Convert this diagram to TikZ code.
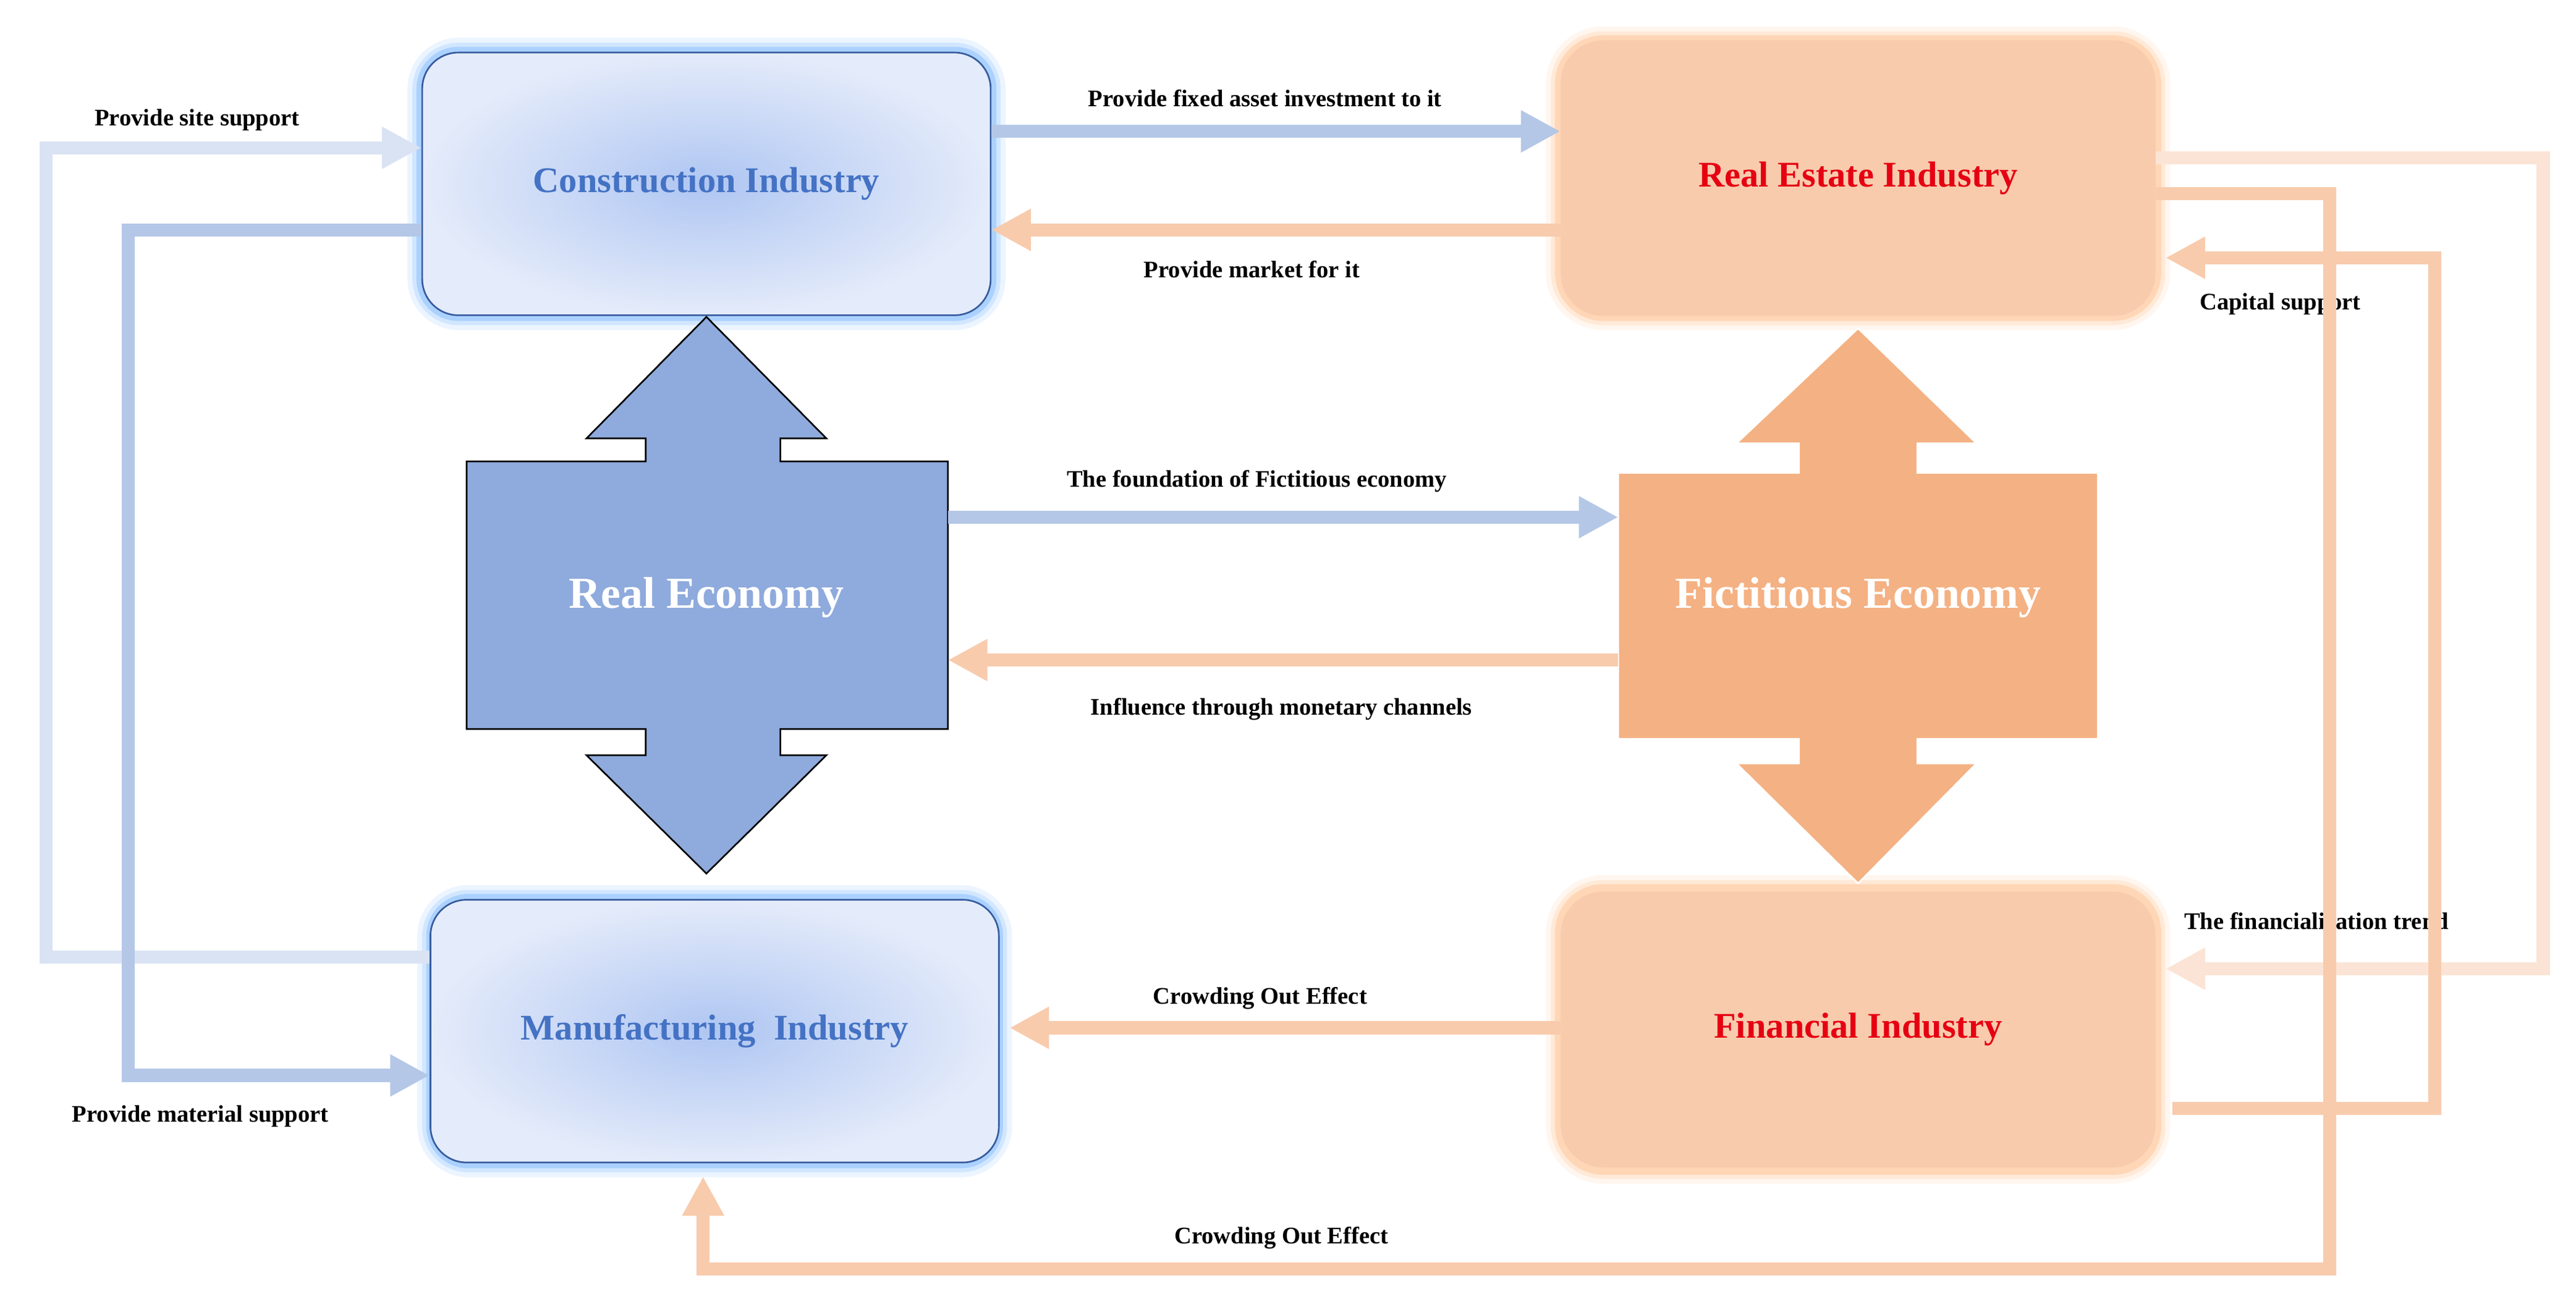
\documentclass[tikz,border=0pt]{standalone}
\usepackage{fontspec}
\setmainfont{Liberation Serif}
\usetikzlibrary{arrows.meta}
\definecolor{bl}{RGB}{180,199,231}
\definecolor{vbl}{RGB}{218,227,243}
\definecolor{orl}{RGB}{248,203,173}
\definecolor{vorl}{RGB}{251,228,213}
\definecolor{txtblue}{RGB}{68,114,196}
\definecolor{txtred}{RGB}{230,0,18}
\definecolor{reblue}{RGB}{143,170,220}
\definecolor{feor}{RGB}{244,177,131}
\definecolor{boxin}{RGB}{175,198,242}
\definecolor{boxout}{RGB}{228,235,250}
\definecolor{glowb}{RGB}{100,170,255}
\definecolor{glowo}{RGB}{255,180,120}
\begin{document}
\begin{tikzpicture}[x=1pt,y=-1pt,
  bluebox/.style={rounded corners=22pt,minimum width=346pt,minimum height=160pt,draw=txtblue!80!black,line width=1pt,inner color=boxin,outer color=boxout,text=txtblue,font=\bfseries\fontsize{22}{24}\selectfont},
  orbox/.style={rounded corners=26pt,minimum width=362pt,minimum height=168pt,fill=orl,text=txtred,font=\bfseries\fontsize{22}{24}\selectfont},
  lab/.style={font=\bfseries\fontsize{14.5}{16}\selectfont},
  con/.style={line width=8pt,-{Triangle[width=24pt,length=24pt]}},
  econ/.style={text=white,font=\bfseries\fontsize{27}{30}\selectfont}]
\useasboundingbox (0,0) rectangle (1568,796);
% glows
\foreach \w/\o in {18/0.12,12/0.2,7/0.35}{
  \draw[glowb,line width=\w pt,opacity=\o,rounded corners=22pt] (257,32) rectangle (603,192);
  \draw[glowb,line width=\w pt,opacity=\o,rounded corners=22pt] (263,548) rectangle (607,708);
  \draw[glowo,line width=\w pt,opacity=\o,rounded corners=26pt] (950,25) rectangle (1312,192);
  \draw[glowo,line width=\w pt,opacity=\o,rounded corners=26pt] (950,542) rectangle (1312,712);
}
\node[bluebox] (ci) at (430,112) {Construction Industry};
\node[bluebox] (mi) at (435,628) {Manufacturing\ \ Industry};
\node[orbox] (rei) at (1131,108.5) {Real Estate Industry};
\node[orbox] (fi) at (1131,627) {Financial Industry};
% economy shapes
\draw[fill=reblue,draw=black,line width=1pt] (430,193) -- (503,267) -- (475,267) -- (475,281) -- (577,281) -- (577,444) -- (475,444) -- (475,460) -- (503,460) -- (430,532) -- (357,460) -- (393,460) -- (393,444) -- (284,444) -- (284,281) -- (393,281) -- (393,267) -- (357,267) -- cycle;
\node[econ] (re) at (430,364) {Real Economy};
\draw[fill=feor,draw=white,line width=1pt] (1131,200) -- (1203,270) -- (1167,270) -- (1167,288) -- (1277,288) -- (1277,450) -- (1167,450) -- (1167,465) -- (1203,465) -- (1131,538) -- (1057,465) -- (1095,465) -- (1095,450) -- (985,450) -- (985,288) -- (1095,288) -- (1095,270) -- (1057,270) -- cycle;
\node[econ] (fe) at (1131,364) {Fictitious Economy};
\coordinate (reE) at (577,0); \coordinate (feW) at (985,0);
% horizontal connectors
\draw[con,bl] (ci.east|-0,80) -- (rei.west|-0,80);
\node[lab] at (770,60) {Provide fixed asset investment to it};
\draw[con,orl] (rei.west|-0,140) -- (ci.east|-0,140);
\node[lab] at (762,164) {Provide market for it};
\draw[con,bl] (reE|-0,315) -- (feW|-0,315);
\node[lab] at (765,293) {The foundation of Fictitious economy};
\draw[con,orl] (feW|-0,402) -- (reE|-0,402);
\node[lab] at (780,432) {Influence through monetary channels};
\draw[con,orl] (fi.west|-0,626) -- ([xshift=6pt]mi.east|-0,626);
\node[lab] at (767,608) {Crowding Out Effect};
% left loops
\draw[con,vbl] (mi.west|-0,583) -- (28,583) -- (28,90) -- (ci.west|-0,90);
\node[lab] at (120,73) {Provide site support};
\draw[con,bl] (ci.west|-0,140) -- (78,140) -- (78,655) -- (mi.west|-0,655);
\node[lab] at (122,680) {Provide material support};
% right loops
\draw[con,vorl] (rei.east|-0,96) -- (1548,96) -- (1548,590) -- ([xshift=6pt]fi.east|-0,590);
\node[lab] at (1410,561) {The financialization trend};
\draw[con,orl] ([xshift=10pt]fi.east|-0,675) -- (1482,675) -- (1482,157) -- ([xshift=6pt]rei.east|-0,157);
\node[lab] at (1388,185) {Capital support};
\draw[con,orl] (rei.east|-0,118) -- (1418,118) -- (1418,773) -- (428,773) -- ([yshift=-8pt]mi.south-|428,0);
\node[lab] at (780,754) {Crowding Out Effect};
\end{tikzpicture}
\end{document}
